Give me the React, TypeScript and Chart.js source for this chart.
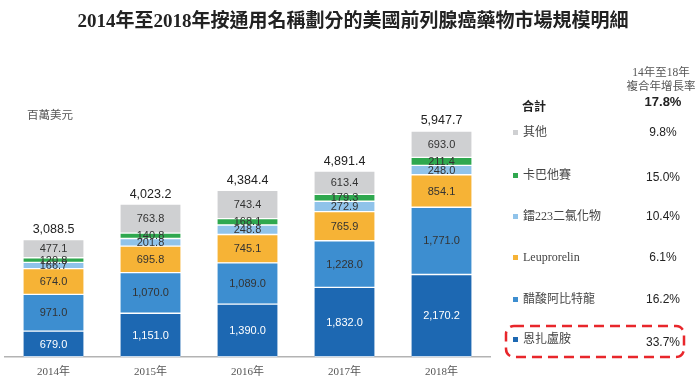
import React, { useEffect, useRef } from "react";
import { Chart, registerables } from "chart.js";

Chart.register(...registerables);

const years = ["2014年", "2015年", "2016年", "2017年", "2018年"];
const enzalutamide = [679.0, 1151.0, 1390.0, 1832.0, 2170.2];
const abiraterone = [971.0, 1070.0, 1089.0, 1228.0, 1771.0];
const leuprorelin = [674.0, 695.8, 745.1, 765.9, 854.1];
const radium223 = [166.7, 201.8, 248.8, 272.9, 248.0];
const cabazitaxel = [120.8, 140.8, 168.1, 179.3, 211.4];
const others = [477.1, 763.8, 743.4, 613.4, 693.0];
const totals = [3088.5, 4023.2, 4384.4, 4891.4, 5947.7];

const seriesNames = ["恩扎盧胺", "醋酸阿比特龍", "Leuprorelin", "鐳223二氯化物", "卡巴他賽", "其他"];
const seriesColors = ["#1d68b2", "#3d8ed0", "#f6b336", "#90c3ea", "#2fa84f", "#cfd0d2"];
const seriesValues = [enzalutamide, abiraterone, leuprorelin, radium223, cabazitaxel, others];
const cagrRates = ["33.7%", "16.2%", "6.1%", "10.4%", "15.0%", "9.8%"];
const totalRate = "17.8%";

const legendY = [339, 299, 257, 216, 175, 132];
const rateY = [342, 299, 257, 216, 177, 132];

const fmt = (v: number) =>
  v.toLocaleString("en-US", { minimumFractionDigits: 1, maximumFractionDigits: 1 });

const sansFont = '"Liberation Sans", Arial, "Noto Sans CJK TC", sans-serif';
const serifFont = '"Liberation Serif", "Times New Roman", "Noto Sans CJK TC", serif';

const labelPlugin = {
  id: "segLabels",
  afterDatasetsDraw(chart: any) {
    const ctx = chart.ctx;
    ctx.save();
    ctx.textAlign = "center";
    ctx.textBaseline = "middle";
    ctx.font = `11px ${sansFont}`;
    chart.data.datasets.forEach((ds: any, di: number) => {
      const meta = chart.getDatasetMeta(di);
      meta.data.forEach((el: any, i: number) => {
        const v = ds.data[i];
        const cy = (el.y + el.base) / 2;
        ctx.fillStyle = di === 0 ? "#ffffff" : "#333333";
        ctx.fillText(fmt(v), el.x, cy + 0.5);
      });
    });
    // totals
    const lastMeta = chart.getDatasetMeta(chart.data.datasets.length - 1);
    ctx.font = `12.5px ${sansFont}`;
    ctx.fillStyle = "#222222";
    lastMeta.data.forEach((el: any, i: number) => {
      ctx.fillText(fmt(totals[i]), el.x, el.y - 10);
    });
    // x labels
    const xs = chart.scales.x;
    ctx.font = `11px ${serifFont}`;
    ctx.fillStyle = "#555555";
    chart.data.labels.forEach((lab: string, i: number) => {
      ctx.fillText(lab, xs.getPixelForValue(i), 372);
    });
    ctx.restore();
  },
};

export default function App() {
  const ref = useRef<HTMLCanvasElement | null>(null);
  useEffect(() => {
    if (!ref.current) return;
    const chart = new Chart(ref.current, {
      type: "bar",
      data: {
        labels: years,
        datasets: seriesValues.map((vals, i) => ({
          label: seriesNames[i],
          data: vals,
          backgroundColor: seriesColors[i],
          borderColor: "#ffffff",
          borderWidth: { top: 1, bottom: 1, left: 0, right: 0 },
          borderSkipped: false,
          barThickness: 60,
        })),
      },
      options: {
        responsive: false,
        animation: false,
        events: [],
        layout: { padding: { left: 5, right: 210, top: 91, bottom: 25 } },
        plugins: { legend: { display: false }, tooltip: { enabled: false } },
        scales: {
          x: {
            stacked: true,
            grid: { display: false, drawTicks: false },
            ticks: { display: false },
            border: { display: true, color: "#b3b3b3", width: 1.5 },
          },
          y: { stacked: true, display: false, min: 0, max: 7000 },
        },
      },
      plugins: [labelPlugin],
    } as any);
    return () => chart.destroy();
  }, []);

  const abs = (style: React.CSSProperties): React.CSSProperties => ({
    position: "absolute",
    whiteSpace: "nowrap",
    lineHeight: "1",
    ...style,
  });

  return (
    <div style={{ position: "absolute", left: 0, top: 0, width: 700, height: 382, background: "#fff" }}>
      <canvas ref={ref} width={700} height={382} style={{ position: "absolute", left: 0, top: 0, display: "block" }} />
      <div
        style={abs({
          left: 0,
          width: 706,
          top: 11,
          textAlign: "center",
          fontFamily: serifFont,
          fontWeight: "bold",
          fontSize: 19,
          color: "#222",
        })}
      >
        2014年至2018年按通用名稱劃分的美國前列腺癌藥物市場規模明細
      </div>
      <div style={abs({ left: 27, top: 110, fontFamily: serifFont, fontSize: 11.5, color: "#555" })}>百萬美元</div>

      <div style={abs({ left: 601, width: 120, top: 67, textAlign: "center", fontFamily: serifFont, fontSize: 11.5, color: "#555" })}>
        14年至18年
      </div>
      <div style={abs({ left: 601, width: 120, top: 81, textAlign: "center", fontFamily: serifFont, fontSize: 11.5, color: "#555" })}>
        複合年增長率
      </div>
      <div style={abs({ left: 603, width: 120, top: 95, textAlign: "center", fontFamily: sansFont, fontWeight: "bold", fontSize: 13, color: "#222" })}>
        {totalRate}
      </div>
      <div style={abs({ left: 522, top: 101, fontFamily: serifFont, fontWeight: "bold", fontSize: 12, color: "#222" })}>合計</div>

      {seriesNames.map((name, i) => (
        <React.Fragment key={name}>
          <div
            style={abs({
              left: 513,
              top: legendY[i] - 2.5,
              width: 5,
              height: 5,
              background: seriesColors[i],
            })}
          />
          <div style={abs({ left: 523, top: legendY[i] - 6.5, fontFamily: serifFont, fontSize: 12, color: "#444" })}>{name}</div>
          <div
            style={abs({
              left: 603,
              width: 120,
              top: rateY[i] - 6.5,
              textAlign: "center",
              fontFamily: sansFont,
              fontSize: 12,
              color: "#222",
            })}
          >
            {cagrRates[i]}
          </div>
        </React.Fragment>
      ))}

      <svg width={700} height={382} style={{ position: "absolute", left: 0, top: 0, pointerEvents: "none" }}>
        <rect x={506} y={326} width={178} height={31} rx={8} ry={8} fill="none" stroke="#e8262b" strokeWidth={2.5} strokeDasharray="10 6" />
      </svg>
    </div>
  );
}
